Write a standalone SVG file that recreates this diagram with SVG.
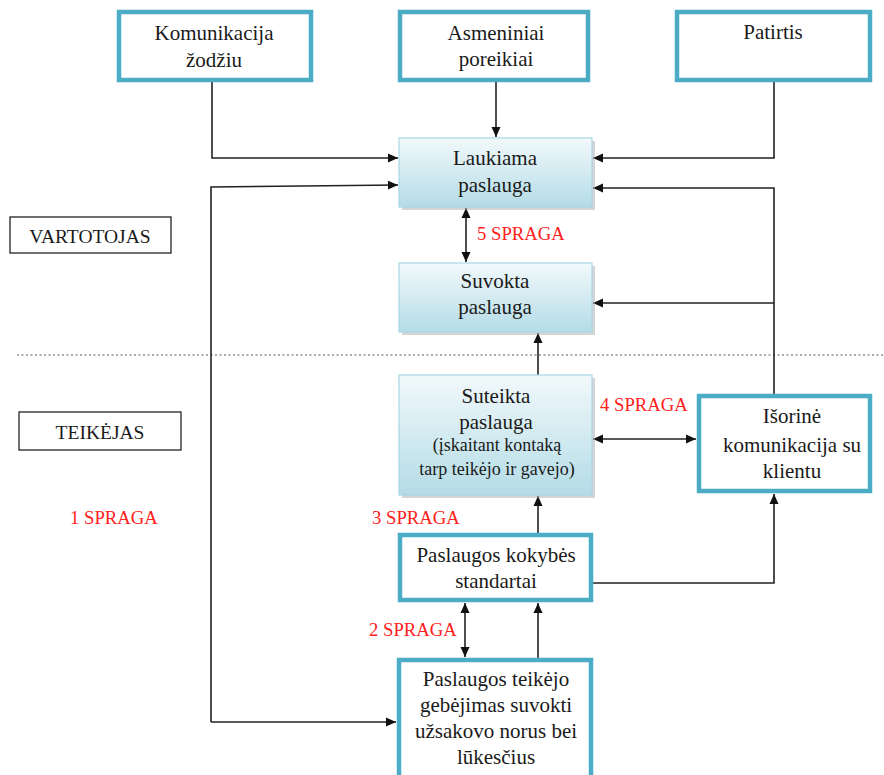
<svg xmlns="http://www.w3.org/2000/svg" width="884" height="775" viewBox="0 0 884 775">
<style>
.t{font-family:'Liberation Serif','Times New Roman',serif;font-size:21px;fill:#1a1a1a;text-anchor:middle}
.s{font-size:18px}
.m{font-size:19.5px}
.r{font-family:'Liberation Serif','Times New Roman',serif;font-size:18.7px;fill:#ff2020}
.bx{fill:#fff;stroke:#4bacc6;stroke-width:4.5}
.gb{fill:url(#g);stroke:#a8d8e4;stroke-width:1.2}
.sh{fill:#b0b0b0;opacity:0.55}
.lb{fill:#fff;stroke:#222;stroke-width:1.3}
.c{fill:none;stroke:#222;stroke-width:1.6}
</style>
<defs>
<linearGradient id="g" x1="0" y1="0" x2="0" y2="1">
<stop offset="0" stop-color="#f2f9fb"/>
<stop offset="1" stop-color="#b4dce7"/>
</linearGradient>
<marker id="a" viewBox="0 0 10 10" refX="10" refY="5" markerWidth="10" markerHeight="10" markerUnits="userSpaceOnUse" orient="auto-start-reverse">
<path d="M0,0.5 L10,5 L0,9.5 z" fill="#111"/>
</marker>
</defs>

<line x1="17" y1="355" x2="884" y2="355" stroke="#555" stroke-width="1.2" stroke-dasharray="2,2.5"/>

<g id="connectors">
<polyline class="c" points="212,82 212,158 398,158" marker-end="url(#a)"/>
<line class="c" x1="496" y1="82" x2="496" y2="137" marker-end="url(#a)"/>
<polyline class="c" points="774,82 774,158 593,158" marker-end="url(#a)"/>
<polyline class="c" points="774,394 774,188 593,188" marker-end="url(#a)"/>
<line class="c" x1="774" y1="303" x2="593" y2="303" marker-end="url(#a)"/>
<polyline class="c" points="211,722 211,187 398,185" marker-end="url(#a)"/>
<line class="c" x1="211" y1="722" x2="396" y2="722" marker-end="url(#a)"/>
<line class="c" x1="466" y1="208" x2="466" y2="262" marker-start="url(#a)" marker-end="url(#a)"/>
<line class="c" x1="538" y1="375" x2="538" y2="333" marker-end="url(#a)"/>
<line class="c" x1="593" y1="439" x2="696" y2="439" marker-start="url(#a)" marker-end="url(#a)"/>
<line class="c" x1="538" y1="533" x2="538" y2="496" marker-end="url(#a)"/>
<polyline class="c" points="593,583 774,583 774,494" marker-end="url(#a)"/>
<line class="c" x1="465" y1="603" x2="465" y2="657" marker-start="url(#a)" marker-end="url(#a)"/>
<line class="c" x1="538" y1="658" x2="538" y2="603" marker-end="url(#a)"/>
</g>

<g id="komunikacija">
<rect class="bx" x="119" y="12" width="192" height="68"/>
<text class="t" x="214" y="40">Komunikacija</text>
<text class="t" x="214" y="67">žodžiu</text>
</g>
<g id="asmeniniai">
<rect class="bx" x="400" y="12" width="188" height="68"/>
<text class="t" x="496" y="40">Asmeniniai</text>
<text class="t" x="496" y="66">poreikiai</text>
</g>
<g id="patirtis">
<rect class="bx" x="677" y="12" width="193" height="68"/>
<text class="t" x="773" y="39">Patirtis</text>
</g>

<g id="laukiama">
<rect class="sh" x="402" y="141" width="193" height="69"/>
<rect class="gb" x="399" y="138" width="193" height="69"/>
<text class="t" x="495" y="165">Laukiama</text>
<text class="t" x="495" y="192">paslauga</text>
</g>
<g id="suvokta">
<rect class="sh" x="402" y="266" width="193" height="69"/>
<rect class="gb" x="399" y="263" width="193" height="69"/>
<text class="t" x="495" y="288">Suvokta</text>
<text class="t" x="495" y="314">paslauga</text>
</g>
<g id="suteikta">
<rect class="sh" x="402" y="378" width="193" height="120"/>
<rect class="gb" x="399" y="375" width="193" height="120"/>
<text class="t" x="496" y="403">Suteikta</text>
<text class="t" x="496" y="429">paslauga</text>
<text class="t s" x="497" y="451">(įskaitant kontaką</text>
<text class="t s" x="497" y="475">tarp teikėjo ir gavejo)</text>
</g>

<g id="standartai">
<rect class="bx" x="400" y="535" width="191" height="65"/>
<text class="t" x="496" y="562">Paslaugos kokybės</text>
<text class="t" x="496" y="588">standartai</text>
</g>
<g id="teikejo">
<rect class="bx" x="399" y="660" width="192" height="130"/>
<text class="t" x="496" y="686">Paslaugos teikėjo</text>
<text class="t" x="496" y="712">gebėjimas suvokti</text>
<text class="t" x="496" y="738">užsakovo norus bei</text>
<text class="t" x="496" y="764">lūkesčius</text>
</g>
<g id="isorine">
<rect class="bx" x="699" y="396" width="171" height="95"/>
<text class="t" x="792" y="423">Išorinė</text>
<text class="t" x="792" y="452">komunikacija su</text>
<text class="t" x="792" y="478">klientu</text>
</g>

<g id="vartotojas">
<rect class="lb" x="10" y="217" width="161" height="36"/>
<text class="t m" x="90" y="243">VARTOTOJAS</text>
</g>
<g id="teikejas">
<rect class="lb" x="19" y="412" width="162" height="38"/>
<text class="t m" x="100" y="439">TEIKĖJAS</text>
</g>

<g id="labels">
<text class="r" x="477" y="240">5 SPRAGA</text>
<text class="r" x="600" y="411">4 SPRAGA</text>
<text class="r" x="372" y="524">3 SPRAGA</text>
<text class="r" x="70" y="524">1 SPRAGA</text>
<text class="r" x="369" y="636">2 SPRAGA</text>
</g>
</svg>
